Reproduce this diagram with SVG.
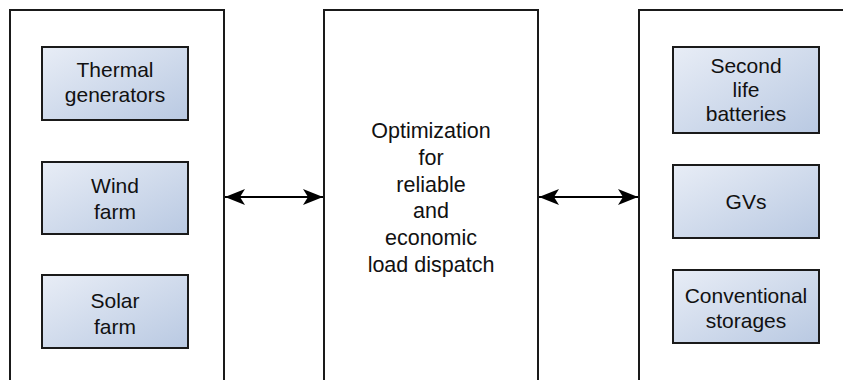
<svg xmlns="http://www.w3.org/2000/svg" width="843" height="380" viewBox="0 0 843 380">
  <defs>
    <linearGradient id="blueFill" x1="0" y1="0" x2="1" y2="1">
      <stop offset="0" stop-color="#e8edf6"/>
      <stop offset="1" stop-color="#b9c9e2"/>
    </linearGradient>
    <marker id="arrowHead" viewBox="0 0 20 16" refX="20" refY="8" markerWidth="20" markerHeight="16" markerUnits="userSpaceOnUse" orient="auto-start-reverse">
      <path d="M0,0 L20,8 L0,16 L5,8 Z" fill="#000"/>
    </marker>
  </defs>
  <style>
    .panel { fill: #fff; stroke: #1a1a1a; stroke-width: 2; }
    .unit { fill: url(#blueFill); stroke: #1a1a1a; stroke-width: 2; }
    .label { font-family: "Liberation Sans", Arial, sans-serif; font-size: 21px; fill: #111; text-anchor: middle; }
    .big { font-size: 21.5px; }
    .link { stroke: #000; stroke-width: 2; fill: none; }
  </style>
  <rect width="843" height="380" fill="#fff"/>

  <!-- sources panel -->
  <g id="sources">
    <rect class="panel" x="10" y="10" width="214" height="390"/>
  </g>
  <g id="thermal">
    <rect class="unit" x="42" y="47" width="146" height="73"/>
    <text class="label" x="115" y="77">Thermal</text>
    <text class="label" x="115" y="102">generators</text>
  </g>
  <g id="wind">
    <rect class="unit" x="42" y="162" width="146" height="72"/>
    <text class="label" x="115" y="193">Wind</text>
    <text class="label" x="115" y="219">farm</text>
  </g>
  <g id="solar">
    <rect class="unit" x="42" y="275" width="146" height="73"/>
    <text class="label" x="115" y="308">Solar</text>
    <text class="label" x="115" y="334">farm</text>
  </g>

  <!-- central optimisation block -->
  <g id="optimization">
    <rect class="panel" x="324" y="10" width="214" height="390"/>
    <text class="label big" x="431" y="138">Optimization</text>
    <text class="label big" x="431" y="164.5">for</text>
    <text class="label big" x="431" y="191.5">reliable</text>
    <text class="label big" x="431" y="218">and</text>
    <text class="label big" x="431" y="245">economic</text>
    <text class="label big" x="431" y="271.5">load dispatch</text>
  </g>

  <!-- storage panel -->
  <g id="storage">
    <rect class="panel" x="639" y="10" width="230" height="390"/>
  </g>
  <g id="second-life">
    <rect class="unit" x="673" y="47" width="146" height="86"/>
    <text class="label" x="746" y="72.5">Second</text>
    <text class="label" x="746" y="96.5">life</text>
    <text class="label" x="746" y="120.5">batteries</text>
  </g>
  <g id="gvs">
    <rect class="unit" x="673" y="165" width="146" height="73"/>
    <text class="label" x="746" y="209">GVs</text>
  </g>
  <g id="conventional">
    <rect class="unit" x="673" y="270" width="146" height="73"/>
    <text class="label" x="746" y="303">Conventional</text>
    <text class="label" x="746" y="328">storages</text>
  </g>

  <!-- bidirectional links -->
  <g id="connectors">
    <line class="link" x1="225" y1="197" x2="323" y2="197" marker-start="url(#arrowHead)" marker-end="url(#arrowHead)"/>
    <line class="link" x1="539" y1="197" x2="638" y2="197" marker-start="url(#arrowHead)" marker-end="url(#arrowHead)"/>
  </g>
</svg>
